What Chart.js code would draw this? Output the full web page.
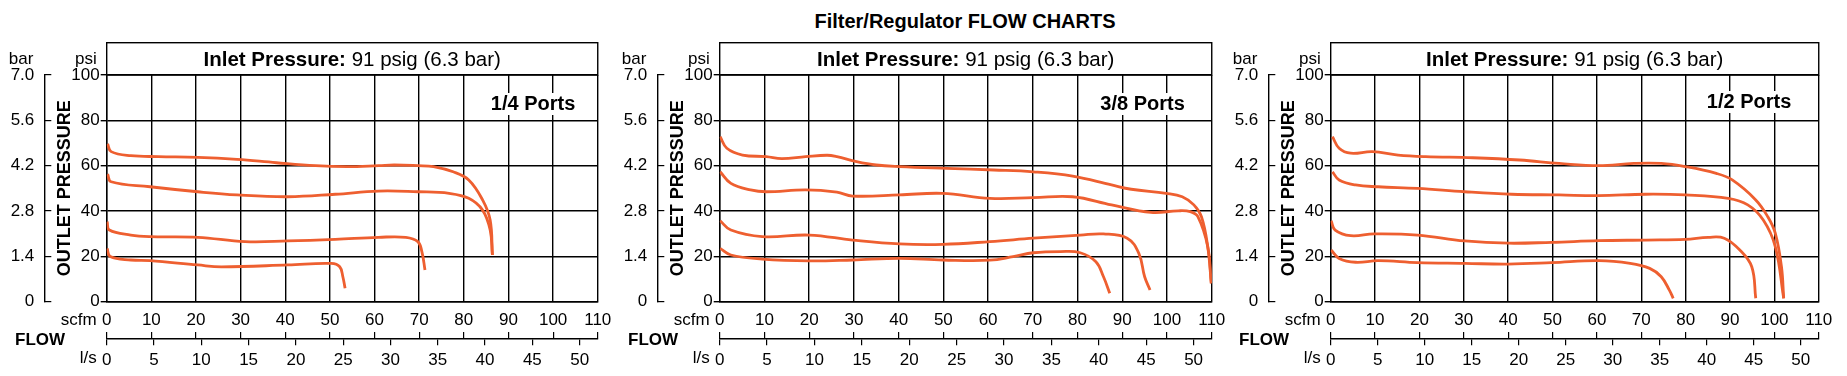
<!DOCTYPE html>
<html>
<head>
<meta charset="utf-8">
<script src="https://cdn.jsdelivr.net/npm/chart.js@4"></script>
<style>
  body { margin: 0; background: #fff; width: 1847px; height: 376px; overflow: hidden; position: relative;
         font-family: "Liberation Sans", Arial, sans-serif; }
  #title { position: absolute; top: 9px; left: 765px; width: 400px; text-align: center;
           font-weight: bold; font-size: 20px; line-height: 24px; color: #000; }
  canvas { position: absolute; top: 0; }
</style>
</head>
<body>
<div id="title">Filter/Regulator FLOW CHARTS</div>
<canvas id="c1"></canvas>
<canvas id="c2"></canvas>
<canvas id="c3"></canvas>
<script>
// tick values
const psiTicks = [0, 20, 40, 60, 80, 100];
const barTicks = [0, 1.4, 2.8, 4.2, 5.6, 7.0];
const scfmTicks = [0, 10, 20, 30, 40, 50, 60, 70, 80, 90, 100, 110];
const lpsTicks = [0, 5, 10, 15, 20, 25, 30, 35, 40, 45, 50];
const SCFM_PER_LPS = 2.11888;

const headerBold = "Inlet Pressure:";
const headerRest = " 91 psig (6.3 bar)";

// [scfm, psi]
// 1/4 ports
const quarterA = [[0.2,69.6],[1,66.2],[5.4,64.4],[11.6,64.0],[20.4,63.7],[29.2,62.8],[38,61.3],[46.8,60],[53.8,59.6],[60.9,60],[64.4,60.3],[69.7,60],[73.2,59.6],[77.6,57.3],[81.1,53.7],[84.2,44.9],[85.9,36],[86.4,20.6]];
const quarterB = [[0.2,56.3],[1,52.9],[9.7,50.7],[20.4,48.5],[29.2,47.1],[40.6,46.3],[51.2,47.4],[60.9,48.8],[69.7,48.5],[76.7,47.8],[81.1,45.6],[84.2,40.4],[85.9,31.6],[86.4,20.6]];
const quarterC = [[0.1,35.3],[0.6,31.6],[5.4,29.4],[9.7,28.7],[20.4,28.4],[31,26.5],[40.6,26.8],[51.2,27.5],[60.9,28.4],[67,28.4],[69.7,26.5],[70.6,22.1],[71.3,14.0]];
const quarterD = [[0.1,23.5],[0.8,19.9],[5.4,18.4],[9.7,18.1],[20.4,16.2],[25.7,15.4],[40.6,16.2],[50.3,16.9],[52.2,15.4],[52.9,11.0],[53.4,5.9]];

// 3/8 ports
const threeEighthA = [[0.1,72.8],[1.6,67.7],[5.1,64.7],[10.4,64.0],[13.9,63.1],[19.2,64.0],[24,64.6],[26.2,64.0],[30.6,61.8],[35,60.3],[40.2,59.6],[50.8,58.8],[61.3,58.1],[70.1,57.3],[78.9,55.4],[87.6,51.5],[92,49.6],[99.8,47.8],[103.4,46.3],[106,42.7],[107.7,37.5],[109.1,24.3],[109.9,8.1]];
const threeEighthB = [[0.1,57.3],[2.5,52.2],[6.9,49.3],[10.4,48.5],[19.2,49.3],[26.2,48.3],[29.7,46.6],[40.2,47.1],[49.8,47.8],[60.4,45.6],[70.1,45.9],[78.9,46.3],[87.6,42.7],[96.4,39.4],[102.5,40.1],[105.2,39.7],[106.9,37.5],[109.1,24.3],[109.9,8.1]];
const threeEighthC = [[0.1,35.7],[2.5,31.6],[9.5,28.7],[20,29.4],[29.7,27.2],[40.2,25.5],[49.9,25.3],[60.4,26.5],[70.1,28.0],[80.6,29.4],[85.8,29.9],[91.1,28.0],[93.7,21.3],[95,11.0],[96.2,5.2]];
const threeEighthD = [[0.1,23.5],[2.5,20.6],[9.5,18.8],[20,18.0],[29.7,18.4],[40.2,19.1],[49.9,18.4],[60.4,18.3],[65.6,19.9],[70.1,21.6],[76.2,22.1],[80.6,21.6],[84.1,17.6],[85.8,11.0],[87.2,3.7]];

// 1/2 ports
const halfA = [[0.4,72.8],[1.9,67.7],[4.5,65.5],[9.4,66.2],[15.2,64.7],[21.4,64.0],[32.0,63.5],[42.6,62.5],[51.5,61.0],[60.4,60.0],[68.3,61.0],[74.5,61.0],[79.9,59.6],[86.9,56.6],[90.5,53.7],[95.8,44.9],[98.5,37.5],[100.2,30.2],[101.6,15.4],[102.1,1.5]];
const halfB = [[0.4,57.3],[1.9,53.7],[5.6,51.5],[10.7,50.7],[19.6,50.0],[30.2,48.5],[40.8,47.4],[51.5,47.1],[60.4,46.8],[71.0,47.4],[79.9,47.1],[89.6,45.6],[94.0,42.7],[97.5,36.0],[100.2,24.3],[102.1,1.5]];
const halfC = [[0.1,35.7],[1.0,31.6],[4.5,29.1],[9.8,29.9],[19.6,29.4],[30.2,26.8],[40.0,25.8],[49.8,26.2],[60.4,26.9],[71.0,27.2],[79.9,27.5],[85.1,28.4],[88.7,28.0],[92.2,22.8],[94.9,15.4],[95.8,1.5]];
const halfD = [[0.1,22.8],[1.9,19.1],[5.6,17.4],[10.7,18.1],[19.6,17.2],[30.2,16.9],[40.0,16.6],[49.8,17.2],[60.4,18.1],[67.5,16.9],[71.9,14.7],[74.5,11.0],[76.3,5.2],[77.2,1.5]];

const LINE = "#ee5f30";
const FONT = '"Liberation Sans", Arial, sans-serif';

Chart.defaults.font.family = FONT;
Chart.defaults.font.size = 17;
Chart.defaults.color = "#000";

const fixTicks = (vals) => (s) => { s.ticks = vals.map(v => ({ value: v })); };

// header box, port label and unit names
const decor = {
  id: "decor",
  afterDraw(chart, args, opts) {
    const { ctx, chartArea: a, scales } = chart;
    ctx.save();
    const boxTop = 42.7;
    ctx.strokeStyle = "#000";
    ctx.lineWidth = 1.4;
    ctx.strokeRect(a.left, boxTop, a.right - a.left, a.top - boxTop);

    ctx.fillStyle = "#000";
    ctx.textBaseline = "middle";
    ctx.textAlign = "left";
    const fb = "bold 20.5px " + FONT, fn = "20.5px " + FONT;
    ctx.font = fb;
    const w1 = ctx.measureText(headerBold).width;
    ctx.font = fn;
    const w2 = ctx.measureText(headerRest).width;
    const hx = (a.left + a.right) / 2 - (w1 + w2) / 2;
    const hy = (boxTop + a.top) / 2 + 1;
    ctx.font = fb;
    ctx.fillText(headerBold, hx, hy);
    ctx.font = fn;
    ctx.fillText(headerRest, hx + w1, hy);

    ctx.font = "bold 20px " + FONT;
    const pw = ctx.measureText(opts.port).width;
    const px = a.right - opts.portRight - pw;
    ctx.fillStyle = "#fff";
    ctx.fillRect(px - 4, opts.portY - 11, pw + 8, 22);
    ctx.fillStyle = "#000";
    ctx.fillText(opts.port, px, opts.portY);

    ctx.font = "17px " + FONT;
    ctx.textAlign = "right";
    ctx.fillText("bar", scales.yb.right - 11, 59);
    ctx.fillText("psi", scales.y.right - 10, 59);
    ctx.fillText("scfm", a.left - 10, 320);
    ctx.fillText("l/s", a.left - 10, 358);
    ctx.font = "bold 17px " + FONT;
    ctx.textAlign = "left";
    ctx.fillText("FLOW", 15, 340);
    ctx.restore();
  },
};

function curve(points) {
  return {
    data: points.map(([x, y]) => ({ x, y })),
    borderColor: LINE,
    borderWidth: 2.8,
    pointRadius: 0,
    fill: false,
    tension: 0.4,
  };
}

function makePanel(id, left, width, padRight, port, portRight, portY, curves) {
  const canvas = document.getElementById(id);
  canvas.width = width;
  canvas.height = 376;
  canvas.style.left = left + "px";

  new Chart(canvas.getContext("2d"), {
    type: "line",
    data: { datasets: curves.map(curve) },
    plugins: [decor],
    options: {
      responsive: false,
      animation: false,
      layout: { padding: { left: 0, right: padRight, top: 75, bottom: 0 } },
      plugins: {
        legend: { display: false },
        tooltip: { enabled: false },
        decor: { port, portRight, portY },
      },
      scales: {
        x: {
          type: "linear", position: "bottom", weight: 0, min: 0, max: 110,
          afterBuildTicks: fixTicks(scfmTicks),
          afterFit: (s) => { s.height = 30; },
          grid: { color: "#000", lineWidth: 1.4, drawTicks: false },
          border: { color: "#000", width: 1.4 },
          ticks: { padding: 8.7, callback: (v) => String(v), maxRotation: 0, autoSkip: false },
        },
        xt: {
          type: "linear", position: "bottom", weight: 1, min: 0, max: 110,
          afterBuildTicks: fixTicks(scfmTicks),
          afterFit: (s) => { s.height = 6.6; },
          grid: { color: "#000", lineWidth: 1.2, drawOnChartArea: false, tickLength: 6.6 },
          border: { display: false },
          ticks: { display: false },
        },
        xls: {
          type: "linear", position: "bottom", weight: 2, min: 0, max: 110 / SCFM_PER_LPS,
          afterBuildTicks: fixTicks(lpsTicks),
          afterFit: (s) => { s.height = 37.7; },
          grid: { color: "#000", lineWidth: 1.2, drawOnChartArea: false, tickLength: 7 },
          border: { color: "#000", width: 1.4 },
          ticks: { padding: 5.1, callback: (v) => String(v), maxRotation: 0, autoSkip: false },
        },
        y: {
          type: "linear", position: "left", weight: 0, min: 0, max: 100,
          afterBuildTicks: fixTicks(psiTicks),
          afterFit: (s) => { s.width = 62.4; },
          grid: { color: "#000", lineWidth: 1.4, tickLength: 6 },
          border: { color: "#000", width: 1.4 },
          ticks: { padding: 1, callback: (v) => String(v) },
          title: {
            display: true, text: "OUTLET PRESSURE",
            font: { size: 18, weight: "bold" }, padding: { top: 9.9, bottom: 0 },
          },
        },
        yb: {
          type: "linear", position: "left", weight: 1, min: 0, max: 7,
          afterBuildTicks: fixTicks(barTicks),
          afterFit: (s) => { s.width = 44.3; },
          grid: { color: "#000", lineWidth: 1.2, drawOnChartArea: false, tickLength: -7 },
          border: { color: "#000", width: 1.4 },
          ticks: { padding: 17, callback: (v) => (v === 0 ? "0" : v.toFixed(1)) },
        },
      },
    },
  });
}

makePanel("c1", 0, 620, 16.3, "1/4 Ports", 22.5, 104, [quarterA, quarterB, quarterC, quarterD]);
makePanel("c2", 613, 621, 16.3, "3/8 Ports", 27, 104, [threeEighthA, threeEighthB, threeEighthC, threeEighthD]);
makePanel("c3", 1224, 617, 16.7, "1/2 Ports", 27.4, 102, [halfA, halfB, halfC, halfD]);
</script>
</body>
</html>
